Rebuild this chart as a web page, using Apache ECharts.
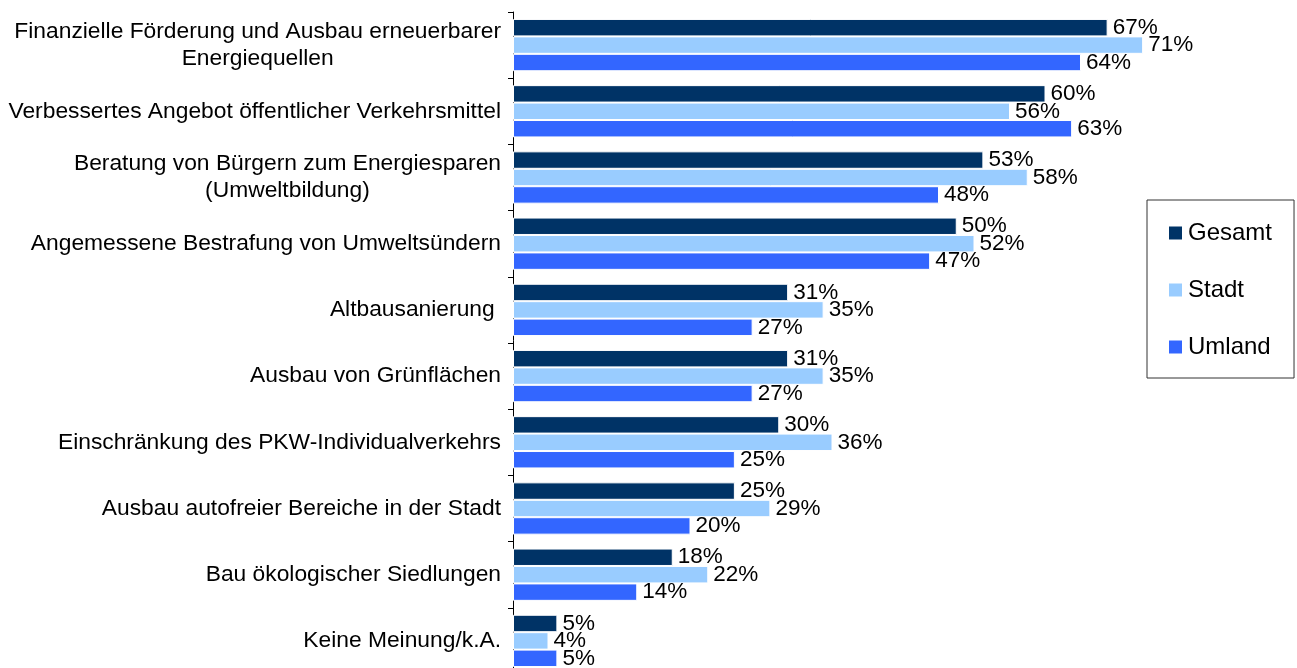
<!DOCTYPE html>
<html>
<head>
<meta charset="utf-8">
<script src="https://cdn.jsdelivr.net/npm/echarts@6/dist/echarts.min.js"></script>
<style>
  html, body { margin: 0; padding: 0; background: #fff; }
  #chart { width: 1297px; height: 668px; }
</style>
</head>
<body>
<div id="chart"></div>
<script>
// categories, top to bottom
const categories = [
  'Finanzielle Förderung und Ausbau erneuerbarer\nEnergiequellen',
  'Verbessertes Angebot öffentlicher Verkehrsmittel',
  'Beratung von Bürgern zum Energiesparen\n(Umweltbildung)',
  'Angemessene Bestrafung von Umweltsündern',
  'Altbausanierung ',
  'Ausbau von Grünflächen',
  'Einschränkung des PKW-Individualverkehrs',
  'Ausbau autofreier Bereiche in der Stadt',
  'Bau ökologischer Siedlungen',
  'Keine Meinung/k.A.'
]

const gesamt = [67, 60, 53, 50, 31, 31, 30, 25, 18, 5]
const stadt = [71, 56, 58, 52, 35, 35, 36, 29, 22, 4]
const umland = [64, 63, 48, 47, 27, 27, 25, 20, 14, 5]

const seriesNames = ['Gesamt', 'Stadt', 'Umland']
const seriesColors = ['#003366', '#99CCFF', '#3366FF']

const FONT = '"Liberation Sans", Arial, sans-serif'

const chart = echarts.init(document.getElementById('chart'))

const makeSeries = (name, data, color) => ({
  name,
  type: 'bar',
  data,
  barGap: '0%',
  barCategoryGap: '21%',
  itemStyle: { color, borderColor: '#fff', borderWidth: 1 },
  label: {
    show: true,
    position: 'right',
    distance: 5,
    formatter: '{c}%',
    color: '#000',
    fontSize: 22.5,
    fontFamily: FONT
  },
  emphasis: { disabled: true }
})

chart.setOption({
  animation: false,
  textStyle: { fontFamily: FONT },
  grid: {
    left: 513,
    width: 781,
    top: 12,
    height: 662,
    containLabel: false,
    outerBoundsMode: 'none'
  },
  legend: {
    orient: 'vertical',
    left: 1147,
    top: 200,
    data: seriesNames,
    icon: 'rect',
    itemWidth: 15,
    itemHeight: 15,
    itemGap: 33,
    padding: [21, 22, 19, 20],
    borderColor: '#333',
    borderWidth: 1,
    backgroundColor: '#fff',
    textStyle: { fontSize: 24, color: '#000', fontFamily: FONT }
  },
  xAxis: {
    type: 'value',
    min: 0,
    max: 88,
    show: false
  },
  yAxis: {
    type: 'category',
    inverse: true,
    data: categories,
    axisLine: { show: true, lineStyle: { color: '#000', width: 1 } },
    axisTick: { show: true, length: 5, lineStyle: { color: '#000' } },
    axisLabel: {
      margin: 12,
      color: '#000',
      fontSize: 22.8,
      fontFamily: FONT,
      lineHeight: 27,
      formatter: (value) => {
        if (value.indexOf('\n') < 0) return value
        return value.split('\n').map((line) => `{c|${line}}`).join('\n')
      },
      rich: {
        c: { align: 'center', fontSize: 22.8, lineHeight: 27, color: '#000', fontFamily: FONT }
      }
    }
  },
  series: [
    makeSeries(seriesNames[0], gesamt, seriesColors[0]),
    makeSeries(seriesNames[1], stadt, seriesColors[1]),
    makeSeries(seriesNames[2], umland, seriesColors[2])
  ]
})
</script>
</body>
</html>
